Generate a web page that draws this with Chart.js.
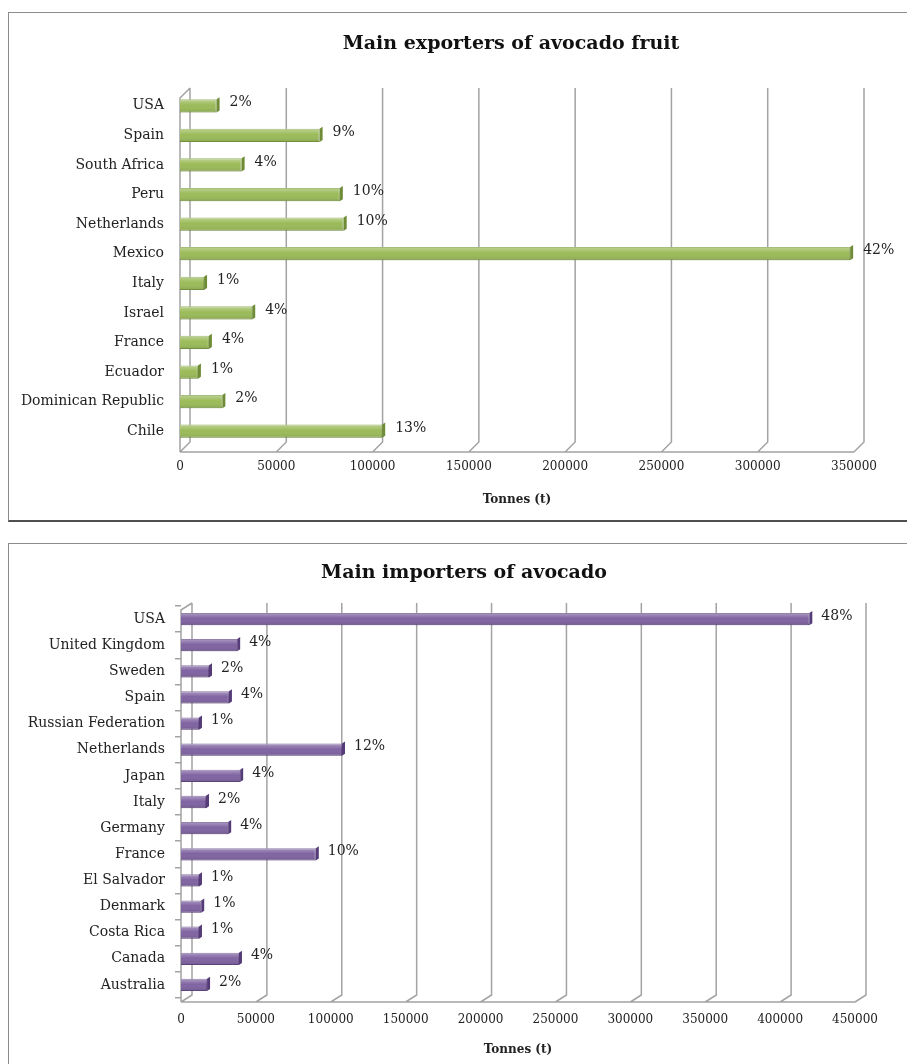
<!DOCTYPE html>
<html>
<head>
<meta charset="utf-8">
<script src="https://cdn.jsdelivr.net/npm/chart.js@4.4.0/dist/chart.umd.min.js"></script>
<style>
  body { margin: 0; background: #fff; width: 907px; height: 1064px; overflow: hidden; position: relative; font-family: 'DejaVu Serif', serif; }
  .box { position: absolute; left: 8px; border: 1px solid #8c8c8c; background: #fff; }
  #boxExp { top: 12px; width: 905px; height: 507px; border-bottom: 2px solid #505050; }
  #boxImp { top: 543px; width: 905px; height: 530px; }
  .title { position: absolute; font-weight: bold; font-size: 19px; line-height: 24px; color: #111; transform: translateX(-50%); white-space: nowrap; }
  canvas { position: absolute; left: 0; top: 0; }
</style>
</head>
<body>
<div class="box" id="boxExp">
  <canvas id="expChart" width="898" height="507"></canvas>
  <div class="title" style="left:502px;top:17px">Main exporters of avocado fruit</div>
</div>
<div class="box" id="boxImp">
  <canvas id="impChart" width="898" height="520"></canvas>
  <div class="title" style="left:455px;top:15px">Main importers of avocado</div>
</div>
<script>
const expCountries = ['USA', 'Spain', 'South Africa', 'Peru', 'Netherlands', 'Mexico', 'Italy', 'Israel', 'France', 'Ecuador', 'Dominican Republic', 'Chile'];
const expTonnes = [19000, 72500, 32000, 83000, 85000, 348000, 12500, 37500, 15000, 9300, 22000, 105000];
const expShare = ['2%', '9%', '4%', '10%', '10%', '42%', '1%', '4%', '4%', '1%', '2%', '13%'];

const impCountries = ['USA', 'United Kingdom', 'Sweden', 'Spain', 'Russian Federation', 'Netherlands', 'Japan', 'Italy', 'Germany', 'France', 'El Salvador', 'Denmark', 'Costa Rica', 'Canada', 'Australia'];
const impTonnes = [419500, 37500, 18700, 32000, 12000, 107500, 39500, 16700, 31500, 90000, 12000, 13500, 12000, 38700, 17400];
const impShare = ['48%', '4%', '2%', '4%', '1%', '12%', '4%', '2%', '4%', '10%', '1%', '1%', '1%', '4%', '2%'];

const FONT = "'DejaVu Serif', serif";

// walls, floor and back gridlines drawn in a fake 3D perspective, plus bar caps and % labels
const deco = {
  id: 'deco',
  beforeDatasetsDraw(chart, args, o) {
    const { ctx, chartArea: a } = chart;
    const x = chart.scales.x;
    const fy = a.bottom + o.floor;
    ctx.save();
    ctx.strokeStyle = '#a3a3a3';
    ctx.lineWidth = 1.5;
    ctx.beginPath();
    ctx.moveTo(a.left, fy);
    ctx.lineTo(x.getPixelForValue(x.max), fy);
    x.ticks.forEach(t => {
      const px = x.getPixelForValue(t.value);
      ctx.moveTo(px, fy);
      ctx.lineTo(px + o.dx, fy - o.dy);
      ctx.lineTo(px + o.dx, a.top - 3);
    });
    ctx.moveTo(a.left, fy);
    ctx.lineTo(a.left, a.top - 3 + o.dy);
    ctx.lineTo(a.left + o.dx, a.top - 3);
    ctx.stroke();
    ctx.restore();
  },
  afterDatasetsDraw(chart, args, o) {
    const { ctx } = chart;
    const meta = chart.getDatasetMeta(0);
    ctx.save();
    meta.data.forEach((bar, i) => {
      const { x, y, base, height } = bar.getProps(['x', 'y', 'base', 'height'], true);
      const t = y - height / 2, b = y + height / 2;
      const g = ctx.createLinearGradient(0, t, 0, b);
      g.addColorStop(0, 'rgba(255,255,255,0.35)');
      g.addColorStop(0.45, 'rgba(255,255,255,0)');
      g.addColorStop(1, 'rgba(0,0,0,0.12)');
      ctx.fillStyle = g;
      ctx.fillRect(base, t, x - base, height);
      ctx.fillStyle = o.cap;
      ctx.beginPath();
      ctx.moveTo(x, t);
      ctx.lineTo(x + 3, t - 2);
      ctx.lineTo(x + 3, b - 2);
      ctx.lineTo(x, b);
      ctx.closePath();
      ctx.fill();
      ctx.fillStyle = '#222';
      ctx.font = '14px ' + FONT;
      ctx.textBaseline = 'middle';
      ctx.textAlign = 'left';
      ctx.fillText(o.pct[i], x + o.gap, y - 3);
    });
    ctx.restore();
  }
};

function makeChart(id, labels, values, share, s) {
  return new Chart(document.getElementById(id), {
    type: 'bar',
    data: {
      labels: labels,
      datasets: [{
        data: values,
        backgroundColor: s.color,
        borderColor: s.border,
        borderWidth: 1,
        barPercentage: s.barPct,
        categoryPercentage: 1
      }]
    },
    options: {
      indexAxis: 'y',
      responsive: false,
      animation: false,
      layout: { padding: { top: s.top, right: s.right, left: 0, bottom: 0 } },
      plugins: {
        legend: { display: false },
        tooltip: { enabled: false },
        deco: { pct: share, cap: s.cap, floor: s.floor, dx: s.dx, dy: s.dy, gap: s.gap }
      },
      scales: {
        x: {
          min: 0, max: s.max,
          afterFit: sc => { sc.height = s.xHeight; },
          grid: { display: false, drawTicks: false },
          border: { display: false },
          ticks: { stepSize: 50000, padding: s.tickPad, color: '#222', font: { family: FONT, size: 12 }, callback: v => String(v) },
          title: { display: true, text: 'Tonnes (t)', color: '#222', font: { family: FONT, size: 12, weight: 'bold' }, padding: { top: 0, bottom: s.titlePad } }
        },
        y: {
          afterFit: sc => { sc.width = s.yWidth; },
          grid: { display: s.yTicks, drawOnChartArea: false, tickLength: 6, color: '#a3a3a3', lineWidth: 1.5 },
          border: { display: false },
          ticks: { padding: 10, color: '#222', font: { family: FONT, size: 14 } }
        }
      }
    },
    plugins: [deco]
  });
}

makeChart('expChart', expCountries, expTonnes, expShare, {
  color: '#9bbb59', border: '#7f9f45', cap: '#6e8b35', barPct: 0.45,
  top: 78, right: 53, max: 350000, xHeight: 74, tickPad: 14, titlePad: 13,
  yWidth: 171, yTicks: false, floor: 6, dx: 10, dy: 10, gap: 13
});

makeChart('impChart', impCountries, impTonnes, impShare, {
  color: '#8064a2', border: '#644a86', cap: '#553b78', barPct: 0.47,
  top: 62, right: 52, max: 450000, xHeight: 66, tickPad: 15, titlePad: 7,
  yWidth: 172, yTicks: true, floor: 4, dx: 11, dy: 7, gap: 12
});
</script>
</body>
</html>
